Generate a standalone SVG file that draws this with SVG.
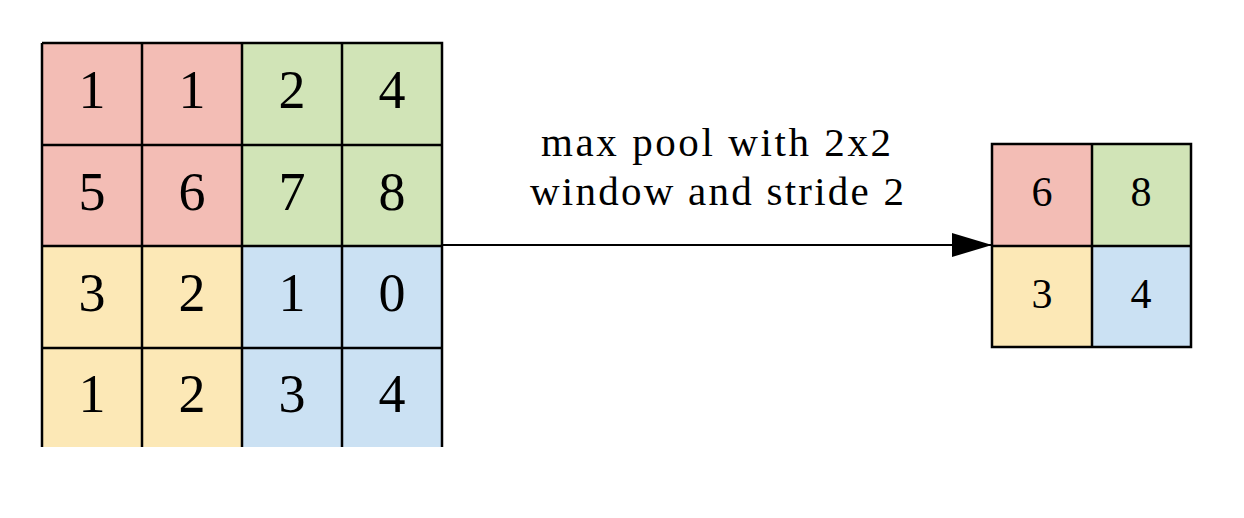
<svg xmlns="http://www.w3.org/2000/svg" width="1244" height="518" viewBox="0 0 1244 518">
<style>
.r{fill:#f3bdb5}.g{fill:#d1e4b7}.y{fill:#fce8b6}.b{fill:#cbe1f3}
.ln{stroke:#000;stroke-width:2.5;fill:none}
.big{font-family:"Liberation Serif",serif;font-size:54px;text-anchor:middle;fill:#000}
.sm{font-family:"Liberation Serif",serif;font-size:42px;text-anchor:middle;fill:#000}
.lbl{font-family:"Liberation Serif",serif;font-size:41px;text-anchor:middle;fill:#000}
</style>
<defs>
<marker id="ah" markerWidth="40" markerHeight="24" refX="40" refY="12" orient="auto" markerUnits="userSpaceOnUse">
<path d="M0,0 L40,12 L0,24 z" fill="#000"/>
</marker>
</defs>
<rect width="1244" height="518" fill="#fff"/>
<g id="input-grid">
<rect class="r" x="42" y="43" width="200" height="203"/>
<rect class="g" x="242" y="43" width="200" height="203"/>
<rect class="y" x="42" y="246" width="200" height="201"/>
<rect class="b" x="242" y="246" width="200" height="201"/>
<path class="ln" d="M42,43 H442 V447 M42,447 V43 M142,43 V447 M242,43 V447 M342,43 V447 M42,145 H442 M42,246 H442 M42,348 H442"/>
<g class="big">
<text x="92" y="108">1</text><text x="192" y="108">1</text><text x="292" y="108">2</text><text x="392" y="108">4</text>
<text x="92" y="210">5</text><text x="192" y="210">6</text><text x="292" y="210">7</text><text x="392" y="210">8</text>
<text x="92" y="311">3</text><text x="192" y="311">2</text><text x="292" y="311">1</text><text x="392" y="311">0</text>
<text x="92" y="412">1</text><text x="192" y="412">2</text><text x="292" y="412">3</text><text x="392" y="412">4</text>
</g>
</g>
<g id="output-grid">
<rect class="r" x="992" y="144" width="100" height="102"/>
<rect class="g" x="1092" y="144" width="99" height="102"/>
<rect class="y" x="992" y="246" width="100" height="101"/>
<rect class="b" x="1092" y="246" width="99" height="101"/>
<path class="ln" d="M992,144 H1191 V347 H992 Z M1092,144 V347 M992,246 H1191"/>
<g class="sm">
<text x="1042" y="206">6</text><text x="1141" y="206">8</text>
<text x="1042" y="308">3</text><text x="1141" y="308">4</text>
</g>
</g>
<g id="connectors">
<line x1="442" y1="245" x2="992" y2="245" stroke="#000" stroke-width="2" marker-end="url(#ah)"/>
</g>
<g id="label">
<text class="lbl" x="716" y="156" textLength="350" lengthAdjust="spacing">max pool with 2x2</text>
<text class="lbl" x="717" y="205" textLength="374" lengthAdjust="spacing">window and stride 2</text>
</g>
</svg>
